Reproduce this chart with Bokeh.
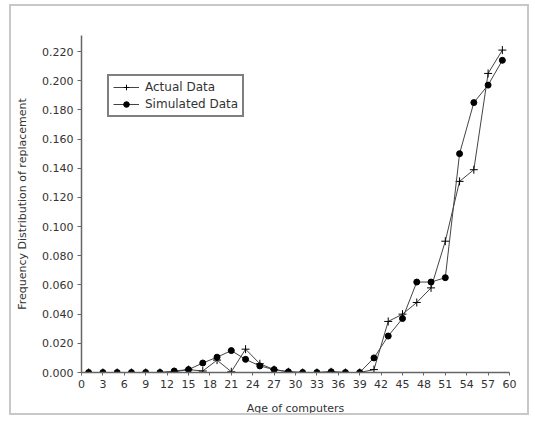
from bokeh.plotting import figure
from bokeh.models import FixedTicker, NumeralTickFormatter, Legend
from bokeh.embed import file_html
from bokeh.resources import INLINE

ages = [1, 3, 5, 7, 9, 11, 13, 15, 17, 19, 21, 23, 25, 27, 29,
        31, 33, 35, 37, 39, 41, 43, 45, 47, 49, 51, 53, 55, 57, 59]
actual = [0, 0, 0, 0, 0, 0, 0.0005, 0.002, 0.001, 0.0085, 0.0005, 0.016, 0.006, 0.002, 0.0005,
          0, 0, 0.0005, 0, 0, 0.002, 0.035, 0.040, 0.048, 0.058, 0.090, 0.131, 0.139, 0.205, 0.221]
simulated = [0, 0, 0, 0, 0, 0, 0.001, 0.002, 0.0065, 0.0105, 0.015, 0.009, 0.0045, 0.002, 0.0005,
             0, 0, 0.0005, 0, 0, 0.010, 0.025, 0.037, 0.062, 0.062, 0.065, 0.150, 0.185, 0.197, 0.214]
x_ticks = list(range(0, 61, 3))
y_ticks = [0.0, 0.02, 0.04, 0.06, 0.08, 0.10, 0.12, 0.14, 0.16, 0.18, 0.20, 0.22]

FONT = "DejaVu Sans"
TXT = "#333333"

p = figure(width=520, height=411, output_backend="svg", toolbar_location=None,
           x_range=(0, 60), y_range=(0, 0.231),
           min_border_left=70, min_border_right=22, min_border_top=29, min_border_bottom=44,
           styles={"border": "2px solid #c8c8c8", "margin-left": "9px", "margin-top": "4px"})
p.outline_line_color = None
p.grid.visible = False
p.background_fill_color = "white"
p.border_fill_color = "white"

for ax in (p.xaxis[0], p.yaxis[0]):
    ax.axis_line_color = "#666666"
    ax.axis_line_width = 1.5
    ax.major_tick_line_color = "#666666"
    ax.major_tick_in = 0
    ax.minor_tick_line_color = None
    ax.major_label_text_font = FONT
    ax.major_label_text_font_size = "11px"
    ax.major_label_text_color = TXT
    ax.axis_label_text_font = FONT
    ax.axis_label_text_font_size = "11px"
    ax.axis_label_text_font_style = "normal"
    ax.axis_label_text_color = TXT

p.xaxis.ticker = FixedTicker(ticks=x_ticks)
p.xaxis.major_tick_out = 3
p.xaxis.major_label_standoff = 4
p.xaxis.axis_label = "Age of computers"
p.xaxis.axis_label_standoff = 11

p.yaxis.ticker = FixedTicker(ticks=y_ticks)
p.yaxis.formatter = NumeralTickFormatter(format="0.000")
p.yaxis.major_tick_out = 4
p.yaxis.major_label_standoff = 4
p.yaxis.axis_label = "Frequency Distribution of replacement"
p.yaxis.axis_label_standoff = 10

la = p.line(ages, actual, line_color="#444444", line_width=1)
sa = p.scatter(ages, actual, marker="cross", size=8, line_color="black", line_width=1)
ls = p.line(ages, simulated, line_color="#444444", line_width=1)
ss = p.scatter(ages, simulated, marker="circle", size=6, fill_color="black", line_color="black")

legend = Legend(items=[("Actual Data", [la, sa]), ("Simulated Data", [ls, ss])],
                location=(26, 255), orientation="vertical",
                border_line_color="black", border_line_width=2,
                padding=4, margin=0, spacing=3,
                glyph_width=26, glyph_height=14, label_standoff=6,
                label_text_font=FONT, label_text_font_size="12px",
                label_text_color=TXT, label_height=14,
                background_fill_color="white", background_fill_alpha=1)
p.add_layout(legend, "center")

open("out.html", "w").write(file_html(p, INLINE))
